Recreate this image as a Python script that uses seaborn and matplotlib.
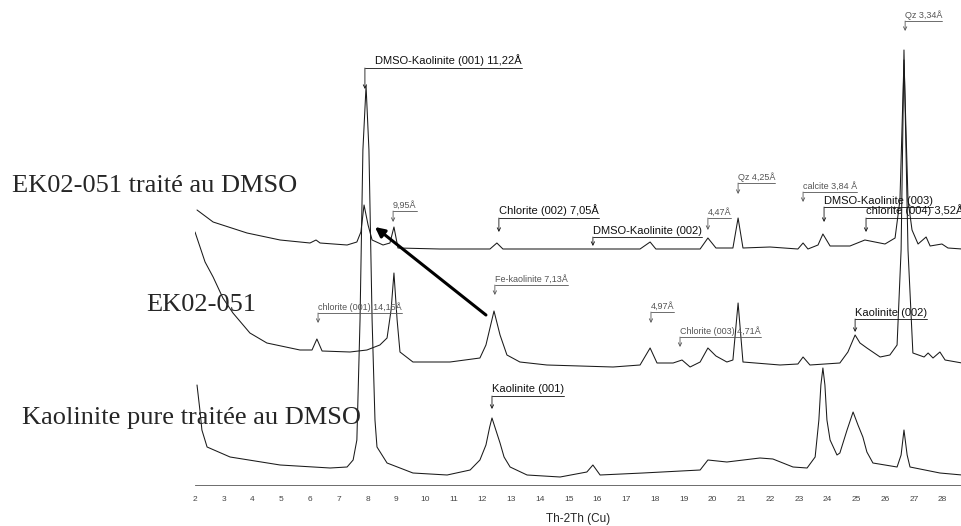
#!/usr/bin/env python3
"""
XRD diffractograms - kaolinite / EK02-051, DMSO treatment.
"""

import pandas as pd
import matplotlib
matplotlib.use("Agg")
import matplotlib.pyplot as plt
from matplotlib.ticker import MultipleLocator
import seaborn as sns

# ===========================
# DATA (2-theta in degrees, intensity in arbitrary units)
# ===========================
top_2th = [2.07, 2.63, 3.81, 4.96, 6.00, 6.21, 6.35, 7.29, 7.63, 7.77, 7.88, 8.02,
           8.16, 8.54, 8.78, 8.92, 9.06, 10.52, 12.26, 12.50, 12.71, 15.74, 17.48,
           17.83, 18.03, 19.57, 19.84, 20.12, 20.71, 20.89, 21.06, 22.00, 22.97,
           23.15, 23.32, 23.67, 23.84, 24.09, 24.78, 25.30, 26.00, 26.35, 26.52,
           26.66, 26.80, 26.94, 27.15, 27.43, 27.57, 27.98, 28.19, 28.68]
top_int = [275, 263, 252, 245, 242, 245, 242, 240, 243, 253, 280, 260,
           245, 240, 242, 258, 237, 236, 236, 242, 236, 236, 236,
           243, 236, 236, 247, 237, 237, 267, 237, 238, 236,
           242, 236, 240, 251, 239, 239, 245, 241, 247, 285,
           425, 285, 255, 241, 248, 239, 241, 237, 236]

mid_2th = [2.00, 2.35, 2.63, 2.97, 3.32, 3.91, 4.50, 5.65, 6.07, 6.24, 6.42, 7.39,
           7.98, 8.43, 8.68, 8.82, 8.92, 9.03, 9.13, 9.58, 10.87, 11.91, 12.12,
           12.40, 12.61, 12.85, 13.30, 14.24, 16.54, 17.48, 17.83, 18.07, 18.63,
           18.94, 19.22, 19.57, 19.84, 20.12, 20.50, 20.71, 20.89, 21.06, 22.35,
           22.97, 23.15, 23.39, 24.43, 24.71, 24.96, 25.13, 25.37, 25.83, 26.17,
           26.42, 26.56, 26.66, 26.80, 26.97, 27.36, 27.50, 27.67, 27.91, 28.09, 28.68]
mid_int = [253, 223, 208, 187, 172, 152, 142, 135, 135, 146, 134, 133,
           135, 140, 147, 175, 212, 165, 133, 123, 123, 127, 140,
           174, 150, 130, 123, 120, 118, 120, 137, 122, 122,
           125, 118, 123, 137, 129, 123, 125, 182, 123, 120,
           121, 128, 120, 122, 133, 150, 142, 137, 128, 130,
           140, 235, 435, 235, 132, 128, 132, 127, 133, 125, 122]

bot_2th = [2.07, 2.17, 2.24, 2.42, 3.22, 4.96, 6.70, 7.29, 7.50, 7.63, 7.74, 7.84,
           7.95, 8.05, 8.16, 8.26, 8.33, 8.68, 9.58, 10.77, 11.57, 11.91, 12.12,
           12.25, 12.33, 12.43, 12.61, 12.75, 12.96, 13.55, 14.70, 15.63, 15.84,
           16.09, 17.58, 19.57, 19.84, 20.50, 21.65, 22.10, 22.80, 23.29, 23.57,
           23.70, 23.77, 23.84, 23.91, 23.98, 24.09, 24.33, 24.43, 24.68, 24.89,
           25.06, 25.23, 25.37, 25.58, 26.42, 26.56, 26.66, 26.77, 26.87, 27.91, 28.68]
bot_int = [100, 75, 55, 38, 28, 20, 17, 18, 25, 45, 165, 335,
           399, 335, 165, 65, 38, 22, 12, 10, 15, 25, 40,
           58, 67, 58, 42, 28, 18, 10, 8, 13, 20,
           10, 12, 15, 25, 23, 27, 26, 18, 17, 28,
           65, 100, 117, 100, 65, 45, 30, 32, 55, 73,
           60, 48, 33, 22, 18, 30, 55, 30, 18, 12, 10]

# peak labels: text, 2-theta of the arrow, level of the underline, arrow tip, style
peak_labels = ["DMSO-Kaolinite (001) 11,22Å", "Qz 3,34Å", "9,95Å", "Chlorite (002) 7,05Å",
               "DMSO-Kaolinite (002)", "4,47Å", "Qz 4,25Å", "calcite 3,84 Å",
               "DMSO-Kaolinite (003)", "chlorite (004) 3,52Å", "chlorite (001) 14,15Å",
               "Fe-kaolinite 7,13Å", "4,97Å", "Chlorite (003) 4,71Å", "Kaolinite (002)",
               "Kaolinite (001)"]
peak_pos = [7.91, 26.70, 8.89, 12.57, 15.84, 19.84, 20.89, 23.15,
            23.88, 25.34, 6.28, 12.43, 17.86, 18.87, 24.96, 12.33]
peak_level = [417, 464, 274, 267, 248, 267, 302, 293,
              278, 267, 172, 200, 173, 148, 166, 89]
peak_tip = [396, 454, 263, 253, 239, 255, 291, 283,
            263, 253, 162, 190, 162, 138, 153, 76]
peak_main = [True, False, False, True, True, False, False, False,
             True, True, False, False, False, False, True, True]
peak_text_dx = [0.35, 0, 0, 0, 0, 0, 0, 0, 0, 0, 0, 0, 0, 0, 0, 0]

sample_names = ["EK02-051 traité au DMSO", "EK02-051", "Kaolinite pure traitée au DMSO"]

# shift arrow (Fe-kaolinite -> DMSO-kaolinite)
shift_from = (12.12, 170)
shift_to = (8.26, 258)

# ===========================
# PLOT
# ===========================
sns.set_style("white")
plt.rcParams["font.family"] = ["Liberation Sans", "DejaVu Sans"]

W, H = 962, 526
fig = plt.figure(figsize=(W / 100, H / 100), dpi=100)
ax = fig.add_axes([195 / W, 41 / H, (W - 195) / W, 485 / H])

traces = pd.concat([
    pd.DataFrame({"2th": top_2th, "I": top_int, "sample": sample_names[0]}),
    pd.DataFrame({"2th": mid_2th, "I": mid_int, "sample": sample_names[1]}),
    pd.DataFrame({"2th": bot_2th, "I": bot_int, "sample": sample_names[2]}),
])
for name, grp in traces.groupby("sample", sort=False):
    sns.lineplot(x="2th", y="I", data=grp, ax=ax, color="#1a1a1a", lw=0.75,
                 estimator=None, sort=False)

ax.set_xlim(2, 2 + (W - 195) / 28.75)
ax.set_ylim(0, 485)
ax.set_ylabel("")
ax.set_yticks([])
for s in ["left", "top", "right"]:
    ax.spines[s].set_visible(False)
ax.spines["bottom"].set_color("#555555")
ax.spines["bottom"].set_linewidth(0.6)

ax.set_xticks(range(2, 29))
ax.xaxis.set_minor_locator(MultipleLocator(0.1))
ax.tick_params(axis="x", which="major", direction="out", length=5, width=0.6,
               color="#555555", labelsize=6, labelcolor="#444444", pad=3)
ax.tick_params(axis="x", which="minor", direction="out", length=2.5, width=0.5,
               color="#666666")
ax.set_xlabel("Th-2Th (Cu)", fontsize=8.5, labelpad=7)

# peak annotations
texts = []
for lab, x, lvl, tip, main, dx in zip(peak_labels, peak_pos, peak_level, peak_tip,
                                      peak_main, peak_text_dx):
    col = "#111111" if main else "#555555"
    fs = 8 if main else 6.5
    t = ax.text(x + dx, lvl + 1.5, lab, fontsize=fs, color=col, ha="left", va="bottom")
    texts.append((t, x, lvl, col))
    ax.annotate("", xy=(x, tip), xytext=(x, lvl),
                arrowprops=dict(arrowstyle="->", color=col, lw=0.6,
                                shrinkA=0, shrinkB=0, mutation_scale=6))

fig.canvas.draw()
inv = ax.transData.inverted()
for t, x, lvl, col in texts:
    bb = t.get_window_extent()
    x_end = inv.transform((bb.x1, bb.y0))[0]
    ax.plot([x, x_end], [lvl, lvl], color=col, lw=0.6, clip_on=False)

ax.annotate("", xy=shift_to, xytext=shift_from,
            arrowprops=dict(arrowstyle="-|>", color="black", lw=2.2,
                            mutation_scale=14, shrinkA=0, shrinkB=0))

# sample names
serif = ["Liberation Serif", "DejaVu Serif"]
fig.text(12 / W, 1 - 186 / H, sample_names[0], family=serif, fontsize=19, va="center")
fig.text(146 / W, 1 - 305 / H, sample_names[1], family=serif, fontsize=19, va="center")
fig.text(22 / W, 1 - 418 / H, sample_names[2], family=serif, fontsize=19, va="center")

fig.savefig("out.png", dpi=100, facecolor="white")
